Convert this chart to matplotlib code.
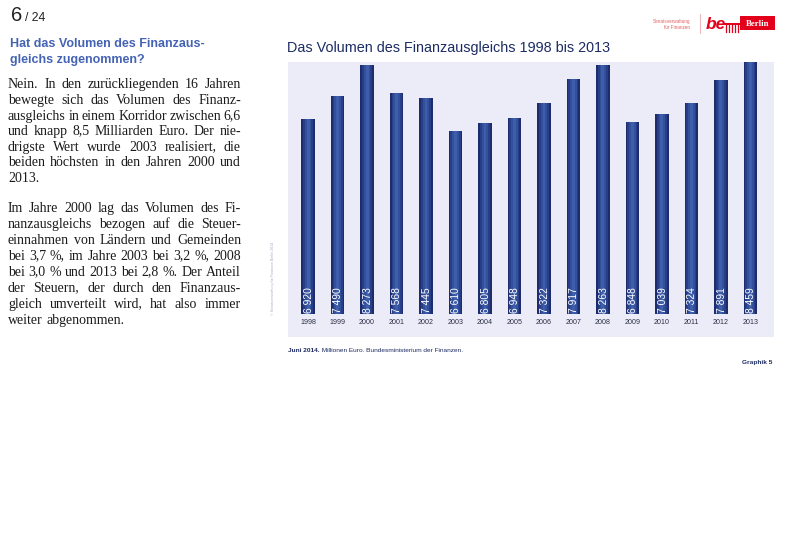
import math
import matplotlib
matplotlib.use("Agg")
import matplotlib.pyplot as plt
from matplotlib import font_manager as fm
from matplotlib.font_manager import FontProperties
from matplotlib.patches import Rectangle
from matplotlib.lines import Line2D
from matplotlib.transforms import IdentityTransform

# ---------------- data ----------------
years = [1998, 1999, 2000, 2001, 2002, 2003, 2004, 2005,
         2006, 2007, 2008, 2009, 2010, 2011, 2012, 2013]
values = [6920, 7490, 8273, 7568, 7445, 6610, 6805, 6948,
          7322, 7917, 8263, 6848, 7039, 7324, 7891, 8459]
baseline_value = 2000

title = "Das Volumen des Finanzausgleichs 1998 bis 2013"
heading = ["Hat das Volumen des Finanzaus-", "gleichs zugenommen?"]
para1 = ["Nein. In den zurückliegenden 16 Jahren",
         "bewegte sich das Volumen des Finanz-",
         "ausgleichs in einem Korridor zwischen 6,6",
         "und knapp 8,5 Milliarden Euro. Der nie-",
         "drigste Wert wurde 2003 realisiert, die",
         "beiden höchsten in den Jahren 2000 und",
         "2013."]
para2 = ["Im Jahre 2000 lag das Volumen des Fi-",
         "nanzausgleichs bezogen auf die Steuer-",
         "einnahmen von Ländern und Gemeinden",
         "bei 3,7 %, im Jahre 2003 bei 3,2 %, 2008",
         "bei 3,0 % und 2013 bei 2,8 %. Der Anteil",
         "der Steuern, der durch den Finanzaus-",
         "gleich umverteilt wird, hat also immer",
         "weiter abgenommen."]
caption_bold = "Juni 2014."
caption_rest = " Millionen Euro. Bundesministerium der Finanzen."
graphik = "Graphik 5"
watermark = "© Senatsverwaltung für Finanzen Berlin 2014"

# ---------------- fonts ----------------
names = {f.name for f in fm.fontManager.ttflist}
NARROW = "Liberation Sans Narrow" if "Liberation Sans Narrow" in names else "Liberation Sans"
NSCALE = 1.0 if NARROW == "Liberation Sans Narrow" else 0.82
SANS = "Liberation Sans"
SERIF = "Liberation Serif"

W, H = 800, 551
fig = plt.figure(figsize=(W / 100, H / 100), dpi=100)
fig.patch.set_facecolor("white")


def P(x, y):
    return x / W, 1 - y / H


renderer = fig.canvas.get_renderer()


def text_width(s, **kw):
    t = fig.text(0, 0, s, **kw)
    w = t.get_window_extent(renderer).width
    t.remove()
    return w


# ---------------- chart ----------------
ax_l, ax_r, ax_t, ax_b = 288, 774, 62, 337
ax = fig.add_axes([ax_l / W, 1 - ax_b / H, (ax_r - ax_l) / W, (ax_b - ax_t) / H])
ax.set_facecolor("#ececf8")
for s in ax.spines.values():
    s.set_visible(False)
ax.set_xticks([])
ax.set_yticks([])

x = list(range(len(years)))
heights = [v - baseline_value for v in values]
ax.bar(x, heights, bottom=baseline_value, width=0.45, color="#1c2c6c", zorder=2)
ax.bar(x, heights, bottom=baseline_value, width=0.34, color="#283e86", zorder=3)
ax.bar(x, heights, bottom=baseline_value, width=0.22, color="#33509d", zorder=4)
ax.bar(x, heights, bottom=baseline_value, width=0.10, color="#3e5daa", zorder=5)

ax.set_xlim(-0.68, 15.80)
ax.set_ylim(1433, 8344)

for xi, v in zip(x, values):
    lab = f"{v:,}".replace(",", " ")
    ax.text(xi + 0.02, baseline_value + 40, lab, rotation=90, ha="center", va="bottom",
            color="white", fontsize=9 * NSCALE, family=NARROW, zorder=6)

xt = ax.get_xaxis_transform()
for xi, yr in zip(x, years):
    ax.text(xi, 0.051, str(yr), transform=xt, ha="center", va="center",
            color="#2b2f45", fontsize=6.3 * NSCALE, family=NARROW)

# title
fig.text(*P(287, 52), title, ha="left", va="baseline", fontsize=12.6 * NSCALE,
         family=NARROW, color="#1c2c64")

# caption
cx, cy = 288, 352
fig.text(*P(cx, cy), caption_bold, ha="left", va="baseline", fontsize=5.7 * NSCALE,
         family=NARROW, weight="bold", color="#1b2a60")
bw = text_width(caption_bold, fontsize=5.7 * NSCALE, family=NARROW, weight="bold")
fig.text(*P(cx + bw, cy), caption_rest, ha="left", va="baseline", fontsize=5.7 * NSCALE,
         family=NARROW, color="#1b2a60")
fig.text(*P(772, 364), graphik, ha="right", va="baseline", fontsize=5.7 * NSCALE,
         family=NARROW, weight="bold", color="#1b2a60")

# watermark
fig.text(*P(273, 278), watermark, rotation=90, ha="center", va="center",
         fontsize=2.6, family=SANS, color="#a8aec8")

# ---------------- left column ----------------
fig.text(*P(11, 21), "6", ha="left", va="baseline", fontsize=14.5, family=NARROW,
         color="#222222")
fig.text(*P(25, 21), "/ 24", ha="left", va="baseline", fontsize=8.8, family=NARROW,
         color="#222222")

for i, line in enumerate(heading):
    fig.text(*P(10, 47 + i * 15.5), line, ha="left", va="baseline", fontsize=9.0,
             family=SANS, weight="bold", color="#4563b4")

BODY = dict(fontsize=10, family=SERIF, color="#1a1a1a")

# descent of each word as the Agg renderer computes it (to keep baselines aligned)
try:
    from matplotlib.backends.backend_agg import get_hinting_flag
    _fp = FontProperties(family=SERIF, size=10)

    def descent(s):
        font = renderer._prepare_font(_fp)
        font.set_text(s, 0, flags=get_hinting_flag())
        return font.get_descent() / 64.0
    descent("test")
except Exception:
    def descent(s):
        return 0.0


def put_word(xpix, ypix, s):
    yint = round(ypix)
    d = descent(s)
    yf = yint - (d - math.floor(d)) + 0.25
    fig.text(xpix, H - yf, s, ha="left", va="baseline", transform=IdentityTransform(),
             **BODY)


def justified(lines, x0, x1, y0, dy):
    for i, line in enumerate(lines):
        y = y0 + i * dy
        words = line.split(" ")
        widths = [text_width(w, **BODY) for w in words]
        if i == len(lines) - 1 or len(words) < 2:
            gap = text_width("a b", **BODY) - text_width("ab", **BODY)
        else:
            gap = (x1 - x0 - sum(widths)) / (len(words) - 1)
        xx = x0
        for w, wd in zip(words, widths):
            put_word(xx, y, w)
            xx += wd + gap


justified(para1, 8, 241, 88.5, 15.6)
justified(para2, 8, 241, 212.5, 15.9)

# ---------------- logo ----------------
red = "#e3001b"
fig.text(*P(690, 21), "Senatsverwaltung", ha="right", va="center", fontsize=3.3,
         family=SANS, color="#e06060")
fig.text(*P(690, 27.5), "für Finanzen", ha="right", va="center", fontsize=3.3,
         family=SANS, color="#e06060")
fig.add_artist(Line2D([700 / W, 700 / W], [1 - 14 / H, 1 - 33 / H], color="#f2b8b8",
                      lw=0.8, transform=fig.transFigure))
fig.text(*P(706, 29), "be", ha="left", va="baseline", fontsize=12.5, family=SANS,
         weight="bold", style="italic", color=red)
fig.add_artist(Rectangle(P(740, 29.5), 35 / W, 13 / H, transform=fig.transFigure,
                         color=red, lw=0))
fig.text(*P(758, 24), "Berlin", ha="center", va="center", fontsize=6.3,
         family=SERIF, weight="bold", color="white")
# gate
fig.add_artist(Rectangle(P(724, 24.5), 17 / W, 1.6 / H, transform=fig.transFigure,
                         color=red, lw=0))
for gx in [725.5, 728.5, 731.5, 734.5, 737.5]:
    fig.add_artist(Line2D([gx / W, gx / W], [1 - 25 / H, 1 - 32 / H], color=red,
                          lw=0.9, transform=fig.transFigure))

fig.savefig("out.png", dpi=100)
